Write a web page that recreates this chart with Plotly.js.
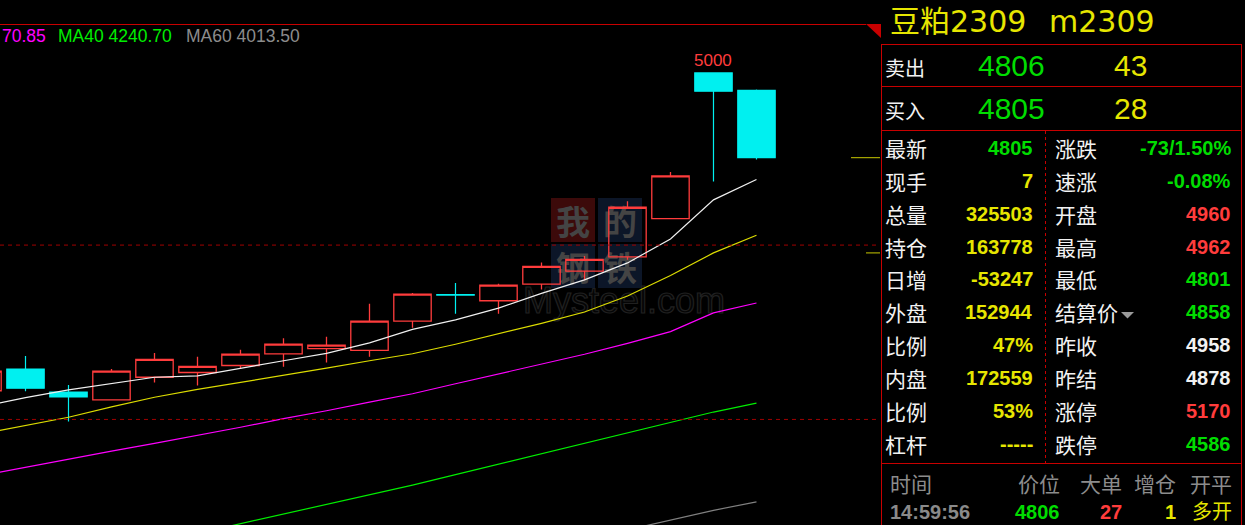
<!DOCTYPE html>
<html><head><meta charset="utf-8">
<script src="https://cdn.plot.ly/plotly-3.0.1.min.js"></script>
<style>html,body{margin:0;padding:0;background:#000;overflow:hidden}#chart{width:1245px;height:525px}</style>
</head><body><div id="chart"></div>
<script>
// ---- chart data ----
const barIndex = [-1,0,1,2,3,4,5,6,7,8,9,10,11,12,13,14,15,16,17];
const openPx  = [4269,4319,4266,4248,4300,4311,4327,4354,4366,4362,4429,4490,4476,4514,4544,4577,4665,5000,4960];
const highPx  = [4318,4349,4282,4319,4356,4347,4363,4390,4393,4469,4494,4517,4515,4564,4579,4705,4772,5000,4962];
const lowPx   = [4265,4268,4198,4248,4288,4281,4319,4324,4334,4347,4414,4446,4446,4502,4523,4570,4665,4750,4801];
const closePx = [4314,4275,4255,4314,4341,4325,4353,4376,4374,4429,4491,4489,4512,4555,4571,4691,4763,4958,4805];
const ma5  = [4233,4253,4271,4286,4300,4303,4321,4338,4355,4379,4410,4432,4459,4493,4524,4563,4618,4708,4755];
const ma10 = [4170,4189,4208,4232,4254,4272,4288,4304,4321,4338,4354,4376,4400,4424,4450,4487,4534,4586,4626.5];
const ma20 = [4074,4093,4112,4130,4148,4166,4185,4205,4223,4243,4262,4285,4308,4331,4353,4378,4405,4448,4470.85];
const ma40 = [null,null,null,null,null,3941,3963,3985,4008,4030,4052,4076,4100,4124,4147,4172,4196,4220,4240.70];
const ma60 = [null,null,null,null,null,null,null,null,null,null,null,null,null,null,null,3949,3972,3994,4013.50];
const gridLevels = [4604, 4203];
const markLevels = [4805, 4586];
const peakLabel = '5000';
const legendTexts = ['70.85', 'MA40 4240.70', 'MA60 4013.50'];

// ---- quote panel data ----
const titleName = '豆粕2309';
const titleCode = 'm2309';
const bookLabels = ['卖出', '买入'];
const bookPrices = ['4806', '4805'];
const bookVols = ['43', '28'];
const leftLabels = ['最新','现手','总量','持仓','日增','外盘','比例','内盘','比例','杠杆'];
const leftValues = ['4805','7','325503','163778','-53247','152944','47%','172559','53%','-----'];
const rightLabels = ['涨跌','速涨','开盘','最高','最低','结算价','昨收','昨结','涨停','跌停'];
const rightValues = ['-73/1.50%','-0.08%','4960','4962','4801','4858','4958','4878','5170','4586'];
const tickHeaders = ['时间','价位','大单','增仓','开平'];
const tickRow = ['14:59:56','4806','27','1','多开'];
const watermarkChars = ['我','的','钢','铁'];
const watermarkSite = 'Mysteel.com';

// ---- styles ----
const W = 1245, H = 525;
const RED = '#ff3c3c', CYAN = '#00f0f0', GREEN = '#00dd00', YEL = '#e6e600', WHITE = '#f2f2f2', GRAY = '#8a8a8a';
const leftColors = [GREEN, YEL, YEL, YEL, YEL, YEL, YEL, YEL, YEL, YEL];
const rightColors = [GREEN, GREEN, RED, RED, GREEN, GREEN, WHITE, WHITE, RED, GREEN];
const tickColors = [GRAY, GREEN, RED, YEL, YEL];
const legendColors = ['#ff00ff', '#00ee00', '#8c8c8c'];
const LAB = "'Noto Sans CJK SC', sans-serif";
const NUM = "'Liberation Sans', Arial, sans-serif";

const px = x => x / W, py = y => 1 - y / H;
function ann(text, x, y, o) {
  o = o || {};
  return {xref:'paper', yref:'paper', x:px(x), y:py(y), text:text, showarrow:false,
    xanchor:o.xa || 'left', yanchor:'middle',
    font:{family:o.family || LAB, size:o.size || 21, color:o.color || WHITE, weight:o.weight || 'normal'}};
}
function hline(x0, x1, y, color, dash) {
  return {type:'line', xref:'paper', yref:'paper', x0:px(x0), x1:px(x1), y0:py(y), y1:py(y),
    line:{color:color || '#c80000', width:1, dash:dash || 'solid'}};
}
function vline(x, y0, y1, color, dash) {
  return {type:'line', xref:'paper', yref:'paper', x0:px(x), x1:px(x), y0:py(y0), y1:py(y1),
    line:{color:color || '#c80000', width:1, dash:dash || 'solid'}};
}

const traces = [
  {type:'candlestick', x:barIndex, open:openPx, high:highPx, low:lowPx, close:closePx,
   hoverinfo:'skip', whiskerwidth:0,
   increasing:{line:{color:RED, width:1.3}, fillcolor:'rgba(0,0,0,0)'},
   decreasing:{line:{color:CYAN, width:1.2}, fillcolor:CYAN}},
  {type:'scatter', mode:'lines', x:barIndex, y:ma5,  line:{color:'#f0f0f0', width:1.2}, hoverinfo:'skip'},
  {type:'scatter', mode:'lines', x:barIndex, y:ma10, line:{color:'#dcdc00', width:1.2}, hoverinfo:'skip'},
  {type:'scatter', mode:'lines', x:barIndex, y:ma20, line:{color:'#ff00ff', width:1.2}, hoverinfo:'skip'},
  {type:'scatter', mode:'lines', x:barIndex, y:ma40, line:{color:'#00ee00', width:1.2}, hoverinfo:'skip', connectgaps:false},
  {type:'scatter', mode:'lines', x:barIndex, y:ma60, line:{color:'#808080', width:1.2}, hoverinfo:'skip', connectgaps:false}
];

const shapes = [];
// watermark squares (below)
const wmBoxes = [[551,198,'#3c0a0a'],[598,198,'#0c1628'],[551,244,'#0c1628'],[598,244,'#0c1628']];
wmBoxes.forEach(b => shapes.push({type:'rect', layer:'below', xref:'paper', yref:'paper',
  x0:px(b[0]), x1:px(b[0]+44), y0:py(b[1]), y1:py(b[1]+44), fillcolor:b[2], line:{width:0}}));
// chart frame top line and corner marker
shapes.push(hline(0, 866, 24.5));
shapes.push({type:'path', xref:'paper', yref:'paper', fillcolor:'#c80000', line:{width:0},
  path:`M ${px(866)} ${py(24)} L ${px(881)} ${py(24)} L ${px(881)} ${py(38)} Z`});
// dashed price levels
gridLevels.forEach(v => shapes.push({type:'line', xref:'paper', yref:'y', x0:0, x1:px(880), y0:v, y1:v,
  line:{color:'#a00000', width:1, dash:'4px,4px'}}));
// short level marks at right edge
shapes.push({type:'line', xref:'paper', yref:'y', x0:px(851), x1:px(880), y0:markLevels[0], y1:markLevels[0], line:{color:'#c8c800', width:1}});
shapes.push({type:'line', xref:'paper', yref:'y', x0:px(866), x1:px(880), y0:markLevels[1], y1:markLevels[1], line:{color:'#c8c800', width:1}});
// panel frame
shapes.push(vline(881.5, 44, 525));
shapes.push(vline(1241.5, 44, 525));
shapes.push(hline(881.5, 1241.5, 44.5));
shapes.push(hline(881.5, 1241.5, 86.5));
shapes.push(hline(881.5, 1241.5, 130.5));
shapes.push(hline(881.5, 1241.5, 463.5));
shapes.push(vline(1045.5, 131, 463, '#c80000', '3px,3px'));
// settle-price triangle
shapes.push({type:'path', xref:'paper', yref:'paper', fillcolor:'#9a9a9a', line:{width:0},
  path:`M ${px(1121)} ${py(312)} L ${px(1134)} ${py(312)} L ${px(1127.5)} ${py(318.5)} Z`});

const annotations = [];
// watermark text
const wmPos = [[573,220],[620,220],[573,266],[620,266]];
watermarkChars.forEach((c,i) => annotations.push(ann(c, wmPos[i][0], wmPos[i][1], {xa:'center', size:34, color:'#444444', weight:'bold'})));
annotations.push(ann(watermarkSite, 521, 300, {family:NUM, size:36, color:'#0a0a0a'}));
// legend
annotations.push(ann(legendTexts[0], 0, 36, {family:NUM, size:17.5, color:legendColors[0]}));
annotations.push(ann(legendTexts[1], 56, 36, {family:NUM, size:17.5, color:legendColors[1]}));
annotations.push(ann(legendTexts[2], 184, 36, {family:NUM, size:17.5, color:legendColors[2]}));
// peak label
annotations.push({xref:'x', yref:'y', x:barIndex[17], y:highPx[17], text:peakLabel, showarrow:false,
  yanchor:'bottom', xanchor:'center', yshift:1, font:{family:NUM, size:17, color:RED}});
// title
annotations.push(ann(titleName, 888, 22, {family:"'DejaVu Sans', 'Noto Sans CJK SC'", size:30, color:'#e6e600'}));
annotations.push(ann(titleCode, 1047, 22, {family:"'DejaVu Sans', 'Noto Sans CJK SC'", size:30, color:'#e6e600'}));
// book
const bookY = [68, 111];
bookLabels.forEach((l,i) => {
  annotations.push(ann(l, 883, bookY[i], {size:20}));
  annotations.push(ann(bookPrices[i], 976, bookY[i]-2, {family:NUM, size:30, color:'#00dd00'}));
  annotations.push(ann(bookVols[i], 1112, bookY[i]-2, {family:NUM, size:30, color:'#e6e600'}));
});
// quote grid
leftLabels.forEach((l,i) => {
  const y = 148 + i * 32.85;
  annotations.push(ann(l, 883, y, {size:21}));
  annotations.push(ann(leftValues[i], 1035, y, {family:NUM, size:20, weight:'bold', color:leftColors[i], xa:'right'}));
  annotations.push(ann(rightLabels[i], 1053, y, {size:21}));
  annotations.push(ann(rightValues[i], 1233, y, {family:NUM, size:20, weight:'bold', color:rightColors[i], xa:'right'}));
});
// ticks
const hdrX = [[888,'left'],[1062,'right'],[1124,'right'],[1178,'right'],[1234,'right']];
tickHeaders.forEach((h,i) => annotations.push(ann(h, hdrX[i][0], 483, {size:21, color:'#8c8c8c', xa:hdrX[i][1]})));
tickRow.forEach((t,i) => {
  const isCJK = i === 4;
  annotations.push(ann(t, hdrX[i][0], isCJK ? 510 : 512, {family:isCJK ? LAB : NUM, size:isCJK ? 20 : 20, weight:isCJK ? 'normal' : 'bold', color:tickColors[i], xa:hdrX[i][1]}));
});

const layout = {
  width:W, height:H, margin:{l:0,r:0,t:0,b:0},
  paper_bgcolor:'#000', plot_bgcolor:'#000', showlegend:false,
  boxgap:0.13, boxgroupgap:0,
  xaxis:{domain:[0, 878/W], range:[-0.593, 19.826], showgrid:false, zeroline:false, showticklabels:false,
         showline:false, ticks:'', rangeslider:{visible:false}, fixedrange:true},
  yaxis:{domain:[0, 501/H], range:[3960.2, 5112.5], showgrid:false, zeroline:false, showticklabels:false,
         showline:false, ticks:'', fixedrange:true},
  shapes:shapes, annotations:annotations
};

Plotly.newPlot('chart', traces, layout, {staticPlot:true, displayModeBar:false}).then(() => {
  // place watermark text beneath the price marks
  const below = document.querySelector('.main-svg .layer-below');
  document.querySelectorAll('g.annotation').forEach(g => {
    const t = g.textContent;
    if (watermarkChars.includes(t) || t === watermarkSite) {
      if (t === watermarkSite) {
        const tx = g.querySelector('text');
        tx.style.fill = '#050505';
        tx.style.stroke = '#202020';
        tx.style.strokeWidth = '1.2px';
      }
      if (below) below.appendChild(g);
    }
  });
});
</script></body></html>
